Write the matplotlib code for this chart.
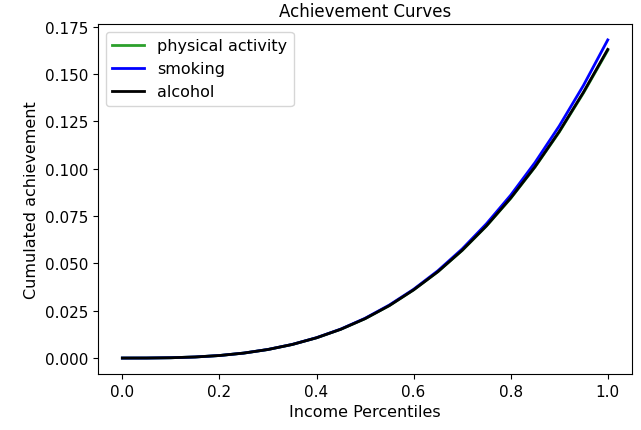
import matplotlib

matplotlib.use("Agg")
import matplotlib.pyplot as plt


# income percentiles (x) and cumulated achievement per indicator
percentiles = [0.00, 0.05, 0.10, 0.15, 0.20, 0.25, 0.30, 0.35, 0.40, 0.45, 0.50,
               0.55, 0.60, 0.65, 0.70, 0.75, 0.80, 0.85, 0.90, 0.95, 1.00]

physical_activity = [0.0, 0.00002, 0.00017, 0.00057, 0.00134, 0.00262, 0.00452,
                     0.00717, 0.0107, 0.0152, 0.0208, 0.0277, 0.0360, 0.0456,
                     0.0568, 0.0697, 0.0843, 0.1008, 0.1193, 0.1400, 0.1625]

smoking = [0.0, 0.00002, 0.00017, 0.00057, 0.00134, 0.00263, 0.00454,
           0.00720, 0.01075, 0.0153, 0.0210, 0.0280, 0.0363, 0.0461,
           0.0576, 0.0709, 0.0860, 0.1032, 0.1225, 0.1440, 0.1680]

alcohol = [0.0, 0.00002, 0.00017, 0.00057, 0.00134, 0.00262, 0.00452,
           0.00717, 0.0107, 0.0152, 0.0208, 0.0277, 0.0360, 0.0456,
           0.0569, 0.0698, 0.0845, 0.1010, 0.1196, 0.1404, 0.1630]


fig = plt.figure(figsize=(6.41, 4.31), dpi=100)
ax = fig.add_axes([0.153, 0.130, 0.833, 0.812])

ax.plot(percentiles, physical_activity, color="#2ca02c", linewidth=2, label="physical activity")
ax.plot(percentiles, smoking, color="blue", linewidth=2, label="smoking")
ax.plot(percentiles, alcohol, color="black", linewidth=2, label="alcohol")

ax.set_title("Achievement Curves", fontsize=12)
ax.set_xlabel("Income Percentiles", fontsize=11.5)
ax.set_ylabel("Cumulated achievement", fontsize=11.5)
ax.set_xticks([0.0, 0.2, 0.4, 0.6, 0.8, 1.0])
ax.set_yticks([0.0, 0.025, 0.05, 0.075, 0.1, 0.125, 0.15, 0.175])
ax.tick_params(labelsize=11)
ax.legend(loc="upper left", fontsize=11.5)

fig.savefig("out.png", dpi=100)
plt.close(fig)
